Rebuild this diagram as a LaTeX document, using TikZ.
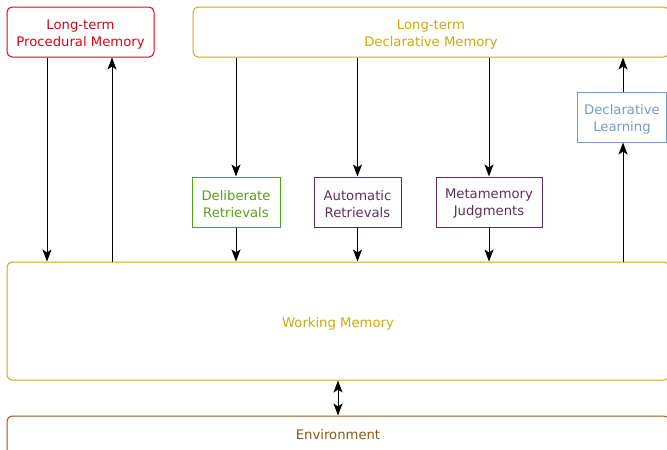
\documentclass[tikz,border=0pt]{standalone}
\usepackage{fontspec}
\setmainfont{DejaVu Sans}
\usetikzlibrary{arrows.meta}
\definecolor{cred}{RGB}{205,10,20}
\definecolor{cgold}{RGB}{205,168,10}
\definecolor{cgreen}{RGB}{85,160,25}
\definecolor{cpurple}{RGB}{95,45,95}
\definecolor{cblue}{RGB}{110,155,210}
\definecolor{cbrown}{RGB}{140,90,20}
\tikzset{
  box/.style={draw, line width=1pt, align=center, inner sep=0pt,
    font=\fontsize{13.2}{17}\selectfont},
  rbox/.style={box, rounded corners=5pt},
  lbl/.style={anchor=center, align=center, inner sep=0pt, font=\fontsize{13.2}{17}\selectfont},
  arr/.style={line width=1pt, -{Stealth[length=12pt,width=9pt,inset=3pt]}},
  darr/.style={line width=1pt, {Stealth[length=12pt,width=9pt,inset=3pt]}-{Stealth[length=12pt,width=9pt,inset=3pt]}}
}
\begin{document}
\begin{tikzpicture}[x=1pt,y=-1pt]
\useasboundingbox (0,0) rectangle (667,450);
\clip (0,0) rectangle (667,450);
\node[rbox, draw=cred, minimum width=147pt, minimum height=50pt] (proc) at (80.5,32) {};
\node[lbl, text=cred, yshift=-2.5pt] (proct) at (proc) {Long-term\\Procedural Memory};
\node[rbox, draw=cgold, minimum width=476pt, minimum height=50pt] (decl) at (431,32) {};
\node[lbl, text=cgold, yshift=-2.5pt] (declt) at (decl) {Long-term\\Declarative Memory};
\node[box, draw=cgreen, minimum width=88pt, minimum height=50pt] (delib) at (236,202) {};
\node[lbl, text=cgreen, yshift=-2pt] (delibt) at (delib) {Deliberate\\Retrievals};
\node[box, draw=cpurple, minimum width=87pt, minimum height=50pt] (auto) at (357.5,202) {};
\node[lbl, text=cpurple, yshift=-2pt] (autot) at (auto) {Automatic\\Retrievals};
\node[box, draw=cpurple, minimum width=106pt, minimum height=50pt] (meta) at (489,202) {};
\node[lbl, text=cpurple, yshift=-2pt] (metat) at (meta) {Metamemory\\Judgments};
\node[box, draw=cblue, minimum width=89pt, minimum height=50pt] (learn) at (622,117) {};
\node[lbl, text=cblue, yshift=-2pt] (learnt) at (learn) {Declarative\\Learning};
\node[rbox, draw=cgold, minimum width=662pt, minimum height=118pt] (wm) at (338,321) {};
\node[lbl, text=cgold, yshift=-2.5pt] (wmt) at (wm) {Working Memory};
\node[rbox, draw=cbrown, minimum width=662pt, minimum height=40pt] (env) at (338,436) {};
\node[lbl, text=cbrown, yshift=1pt] (envt) at (env) {Environment};
\coordinate (xa) at (47,0);
\coordinate (xb) at (112,0);
\coordinate (xl) at (623,0);
\draw[arr] (xa |- proc.south) -- (xa |- wm.north);
\draw[arr] (xb |- wm.north) -- (xb |- proc.south);
\draw[arr] (delib |- decl.south) -- (delib.north);
\draw[arr] (auto |- decl.south) -- (auto.north);
\draw[arr] (meta |- decl.south) -- (meta.north);
\draw[arr] (delib.south) -- (delib |- wm.north);
\draw[arr] (auto.south) -- (auto |- wm.north);
\draw[arr] (meta.south) -- (meta |- wm.north);
\draw[arr] (xl |- wm.north) -- (xl |- learn.south);
\draw[arr] (xl |- learn.north) -- (xl |- decl.south);
\draw[darr] (wm.south) -- (env.north);
\end{tikzpicture}
\end{document}
